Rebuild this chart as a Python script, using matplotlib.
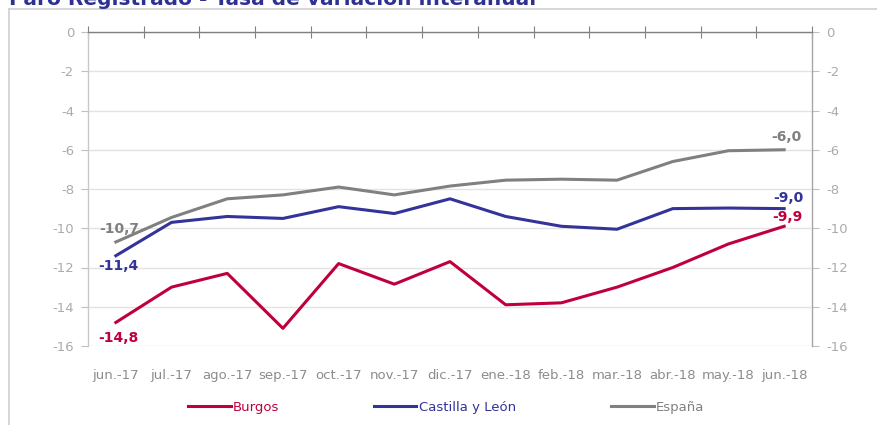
import matplotlib
matplotlib.use("Agg")
import matplotlib.pyplot as plt
from matplotlib.lines import Line2D
import numpy as np

plt.rcParams['axes.unicode_minus'] = False
plt.rcParams['font.family'] = ['DejaVu Sans']

categories = ["jun.-17", "jul.-17", "ago.-17", "sep.-17", "oct.-17", "nov.-17",
              "dic.-17", "ene.-18", "feb.-18", "mar.-18", "abr.-18", "may.-18", "jun.-18"]
burgos = [-14.8, -13.0, -12.3, -15.1, -11.8, -12.85, -11.7, -13.9, -13.8, -13.0, -12.0, -10.8, -9.9]
castilla = [-11.4, -9.7, -9.4, -9.5, -8.9, -9.25, -8.5, -9.4, -9.9, -10.05, -9.0, -8.97, -9.0]
espana = [-10.7, -9.45, -8.5, -8.3, -7.9, -8.3, -7.85, -7.55, -7.5, -7.55, -6.6, -6.05, -6.0]
yticks = [0, -2, -4, -6, -8, -10, -12, -14, -16]
title = "Paro Registrado - Tasa de variación interanual"

c_burgos = "#C0003C"
c_cyl = "#333399"
c_esp = "#808080"

fig = plt.figure(figsize=(8.77, 4.25), dpi=100)
W, H = 877, 425
ax = fig.add_axes([88 / W, 1 - 346 / H, (812 - 88) / W, (346 - 32) / H])

x = np.arange(len(categories))
l1, = ax.plot(x, burgos, color=c_burgos, lw=2.2, solid_joinstyle='round', label="Burgos", zorder=3)
l2, = ax.plot(x, castilla, color=c_cyl, lw=2.2, solid_joinstyle='round', label="Castilla y León", zorder=3)
l3, = ax.plot(x, espana, color=c_esp, lw=2.2, solid_joinstyle='round', label="España", zorder=3)

ax.set_xlim(-0.5, len(categories) - 0.5)
ax.set_ylim(-16, 0)
ax.set_yticks(yticks)
ax.set_yticklabels([str(v) for v in yticks])
ax.yaxis.grid(True, color="#E3E3E3", lw=1)
ax.set_axisbelow(True)
ax.tick_params(axis='y', colors="#BFBFBF", labelcolor="#ABABAB", labelsize=9.5,
               length=5, width=0.8, direction='out', pad=5,
               left=True, right=True, labelleft=True, labelright=True)

ax.set_xticks(x)
ax.set_xticklabels(categories)
ax.tick_params(axis='x', which='major', bottom=False, top=False, labelcolor="#8C8C8C",
               labelsize=9.5, pad=13)
ax.set_xticks(np.arange(-0.5, len(categories), 1.0), minor=True)
ax.tick_params(axis='x', which='minor', top=True, bottom=False, direction='inout',
               length=8, width=0.8, colors="#808080")

ax.spines['bottom'].set_visible(False)
ax.spines['top'].set_color("#808080")
ax.spines['top'].set_linewidth(1.0)
ax.spines['left'].set_color("#C8C8C8")
ax.spines['right'].set_color("#A6A6A6")
ax.spines['left'].set_linewidth(1.0)
ax.spines['right'].set_linewidth(1.0)

px = 72 / 100.0
def lab(xi, yv, color, dx, dy, txt):
    ax.annotate(txt, (xi, yv), xytext=(dx * px, dy * px), textcoords='offset points',
                ha='center', va='center', color=color, fontsize=10, fontweight='bold', zorder=4)

fmt = lambda v: f"{v:.1f}".replace(".", ",")
lab(0, burgos[0], c_burgos, 3, -16, fmt(burgos[0]))
lab(0, castilla[0], c_cyl, 3, -10, fmt(castilla[0]))
lab(0, espana[0], c_esp, 3, 13, fmt(espana[0]))
n = len(categories) - 1
lab(n, burgos[n], c_burgos, 3, 9, fmt(burgos[n]))
lab(n, castilla[n], c_cyl, 4, 11, fmt(castilla[n]))
lab(n, espana[n], c_esp, 2, 13, fmt(espana[n]))

# legends
for line, xc in [(l1, 234), (l2, 445), (l3, 658)]:
    fig.legend(handles=[line], loc='center', bbox_to_anchor=(xc / W, 1 - 407 / H),
               frameon=False, fontsize=9.5, handlelength=3.2, handletextpad=0.2,
               labelcolor='linecolor')

# frame
fig.add_artist(Line2D([9 / W, 9 / W], [0, 1 - 9 / H], color="#D0D0D0", lw=1.2, transform=fig.transFigure))
fig.add_artist(Line2D([9 / W, 1], [1 - 9 / H, 1 - 9 / H], color="#D0D0D0", lw=1.2, transform=fig.transFigure))

fig.text(9 / W, 1 - 5 / H, title, color="#2E3192", fontsize=14.5, fontweight='bold',
         ha='left', va='baseline')

fig.savefig("out.png", dpi=100)
